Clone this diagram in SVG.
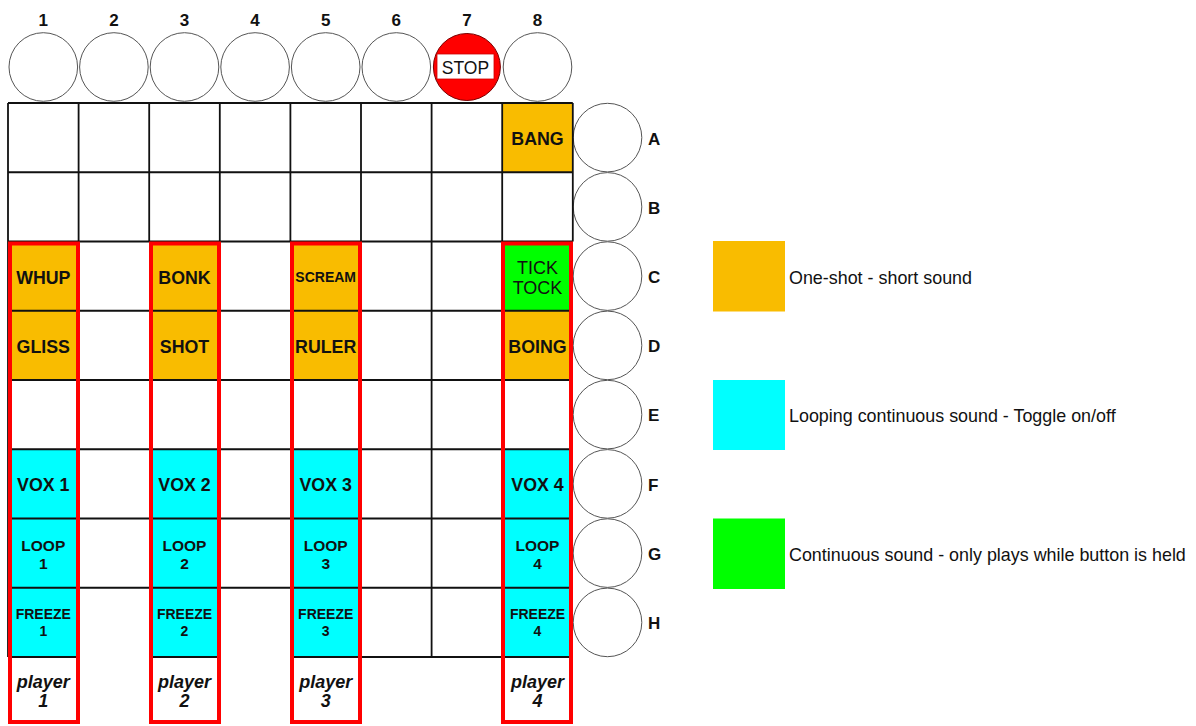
<svg xmlns="http://www.w3.org/2000/svg" width="1196" height="726" viewBox="0 0 1196 726">
<style>
.t{font-family:"Liberation Sans",Arial,sans-serif;fill:#111;text-anchor:middle}
.b{font-weight:bold}
.circ{fill:#fff;stroke:#555;stroke-width:1}
.grid{stroke:#111;stroke-width:1.8;fill:none}
.red{fill:none;stroke:#ff0000;stroke-width:4}
.or{fill:#F9BC00}
.cy{fill:#00FFFF}
.gr{fill:#00FF00}
.leg{font-family:"Liberation Sans",Arial,sans-serif;fill:#111;font-size:17.9px}
</style>
<rect width="1196" height="726" fill="#fff"/>
<g id="col-labels" class="t b" font-size="17">
<text x="43.3" y="26">1</text><text x="113.9" y="26">2</text><text x="184.5" y="26">3</text><text x="255.1" y="26">4</text>
<text x="325.7" y="26">5</text><text x="396.3" y="26">6</text><text x="466.9" y="26">7</text><text x="537.5" y="26">8</text>
</g>
<g id="top-buttons">
<circle class="circ" cx="43.3" cy="67" r="34.3"/>
<circle class="circ" cx="113.9" cy="67" r="34.3"/>
<circle class="circ" cx="184.5" cy="67" r="34.3"/>
<circle class="circ" cx="255.1" cy="67" r="34.3"/>
<circle class="circ" cx="325.7" cy="67" r="34.3"/>
<circle class="circ" cx="396.3" cy="67" r="34.3"/>
<circle class="circ" cx="537.5" cy="67" r="34.3"/>
</g>
<g id="stop">
<circle cx="466.9" cy="67" r="33.5" fill="#ff0000" stroke="#7a0000" stroke-width="1"/>
<rect x="437" y="54" width="57" height="25" fill="#fff" stroke="#cc0000" stroke-width="0.8"/>
<text class="t" x="465.5" y="73.5" font-size="17.5">STOP</text>
</g>
<g id="side-buttons">
<circle class="circ" cx="607.5" cy="137.6" r="34.3"/>
<circle class="circ" cx="607.5" cy="206.9" r="34.3"/>
<circle class="circ" cx="607.5" cy="276.1" r="34.3"/>
<circle class="circ" cx="607.5" cy="345.4" r="34.3"/>
<circle class="circ" cx="607.5" cy="414.6" r="34.3"/>
<circle class="circ" cx="607.5" cy="483.9" r="34.3"/>
<circle class="circ" cx="607.5" cy="553.1" r="34.3"/>
<circle class="circ" cx="607.5" cy="622.4" r="34.3"/>
</g>
<g id="row-labels" class="t b" font-size="17" style="text-anchor:start">
<text x="648" y="144.5">A</text><text x="648" y="213.5">B</text><text x="648" y="282.5">C</text><text x="648" y="352">D</text>
<text x="648" y="421">E</text><text x="648" y="490.5">F</text><text x="648" y="559.5">G</text><text x="648" y="629">H</text>
</g>
<g id="cells">
<rect class="or" x="502.2" y="103" width="70.6" height="69.25"/>
<rect class="or" x="8" y="241.5" width="70.6" height="69.25"/>
<rect class="or" x="149.2" y="241.5" width="70.6" height="69.25"/>
<rect class="or" x="290.4" y="241.5" width="70.6" height="69.25"/>
<rect class="gr" x="502.2" y="241.5" width="70.6" height="69.25"/>
<rect class="or" x="8" y="310.75" width="70.6" height="69.25"/>
<rect class="or" x="149.2" y="310.75" width="70.6" height="69.25"/>
<rect class="or" x="290.4" y="310.75" width="70.6" height="69.25"/>
<rect class="or" x="502.2" y="310.75" width="70.6" height="69.25"/>
<rect class="cy" x="8" y="449.25" width="70.6" height="207.75"/>
<rect class="cy" x="149.2" y="449.25" width="70.6" height="207.75"/>
<rect class="cy" x="290.4" y="449.25" width="70.6" height="207.75"/>
<rect class="cy" x="502.2" y="449.25" width="70.6" height="207.75"/>
</g>
<g id="connectors" class="grid">
<path d="M8 103H572.8M8 172.25H572.8M8 241.5H572.8M8 310.75H572.8M8 380H572.8M8 449.25H572.8M8 518.5H572.8M8 587.75H572.8"/>
<path d="M8 657H78.6M149.2 657H219.8M290.4 657H572.8"/>
<path d="M8 103V657M78.6 103V241.5M149.2 103V241.5M219.8 103V241.5M290.4 103V241.5M361 103V657M431.6 103V657M502.2 103V241.5M572.8 103V241.5"/>
</g>
<g id="players">
<rect class="red" x="10" y="243.5" width="68" height="478.5"/>
<rect class="red" x="151" y="243.5" width="68" height="478.5"/>
<rect class="red" x="292" y="243.5" width="68" height="478.5"/>
<rect class="red" x="503" y="243.5" width="68" height="478.5"/>
</g>
<g id="labels" class="t b" font-size="17.8">
<text x="537.5" y="144.5">BANG</text>
<text x="43.3" y="283.5">WHUP</text>
<text x="184.5" y="283.5">BONK</text>
<text x="325.7" y="282" font-size="14">SCREAM</text>
<text x="43.3" y="353">GLISS</text>
<text x="184.5" y="353">SHOT</text>
<text x="325.7" y="353">RULER</text>
<text x="537.5" y="353">BOING</text>
<text x="43.3" y="491">VOX 1</text>
<text x="184.5" y="491">VOX 2</text>
<text x="325.7" y="491">VOX 3</text>
<text x="537.5" y="491">VOX 4</text>
</g>
<g id="ticktock" class="t" font-size="18">
<text x="537.5" y="274">TICK</text>
<text x="537.5" y="294">TOCK</text>
</g>
<g id="loops" class="t b" font-size="15.5">
<text x="43.3" y="550.5">LOOP</text><text x="43.3" y="568.5">1</text>
<text x="184.5" y="550.5">LOOP</text><text x="184.5" y="568.5">2</text>
<text x="325.7" y="550.5">LOOP</text><text x="325.7" y="568.5">3</text>
<text x="537.5" y="550.5">LOOP</text><text x="537.5" y="568.5">4</text>
</g>
<g id="freezes" class="t b" font-size="14">
<text x="43.3" y="619">FREEZE</text><text x="43.3" y="636">1</text>
<text x="184.5" y="619">FREEZE</text><text x="184.5" y="636">2</text>
<text x="325.7" y="619">FREEZE</text><text x="325.7" y="636">3</text>
<text x="537.5" y="619">FREEZE</text><text x="537.5" y="636">4</text>
</g>
<g id="player-labels" class="t b" font-size="18" font-style="italic">
<text x="43.3" y="688">player</text><text x="43.3" y="707">1</text>
<text x="184.5" y="688">player</text><text x="184.5" y="707">2</text>
<text x="325.7" y="688">player</text><text x="325.7" y="707">3</text>
<text x="537.5" y="688">player</text><text x="537.5" y="707">4</text>
</g>
<g id="legend-oneshot">
<rect class="or" x="713" y="241" width="72" height="70.5"/>
<text class="leg" x="789" y="283.5">One-shot - short sound</text>
</g>
<g id="legend-loop">
<rect class="cy" x="713" y="380" width="72" height="70"/>
<text class="leg" x="789" y="422">Looping continuous sound - Toggle on/off</text>
</g>
<g id="legend-hold">
<rect class="gr" x="713" y="518.5" width="72" height="70.5"/>
<text class="leg" x="789" y="561">Continuous sound - only plays while button is held</text>
</g>
</svg>
